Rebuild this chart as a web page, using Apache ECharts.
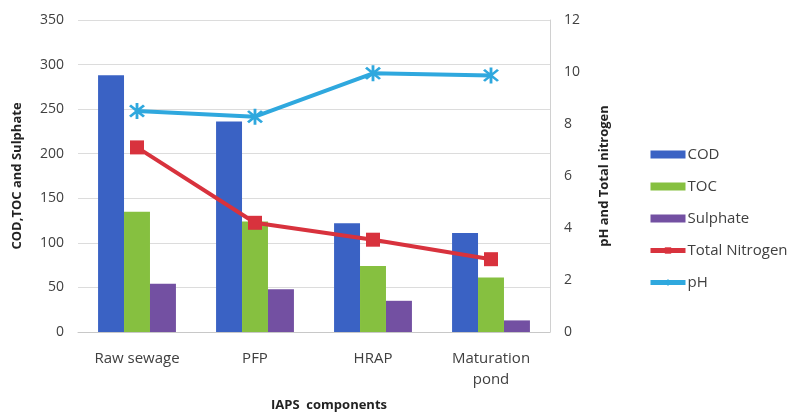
<!DOCTYPE html>
<html>
<head>
<meta charset="utf-8">
<script src="https://cdn.jsdelivr.net/npm/echarts@6/dist/echarts.min.js"></script>
<style>html,body{margin:0;padding:0;background:#fff}#c{width:790px;height:414px}</style>
</head>
<body>
<div id="c"></div>
<script>
var categories = ['Raw sewage', 'PFP', 'HRAP', 'Maturation\npond'];
var cod = [288, 236, 122, 111];
var toc = [135, 124, 74, 61];
var sulphate = [54, 48, 35, 13];
var totalNitrogen = [7.1, 4.2, 3.55, 2.8];
var ph = [8.5, 8.28, 9.95, 9.87];
var leftTicks = {min: 0, max: 350, interval: 50};
var rightTicks = {min: 0, max: 12, interval: 2};

var FONT = 'Open Sans';
var star = 'path://M-1,-7L1,-7L1,7L-1,7Z M-4.24,-5.66L5.66,4.24L4.24,5.66L-5.66,-4.24Z M-5.66,4.24L4.24,-5.66L5.66,-4.24L-4.24,5.66Z';

var chart = echarts.init(document.getElementById('c'), null, {renderer: 'canvas'});
chart.setOption({
  animation: false,
  backgroundColor: '#ffffff',
  textStyle: {fontFamily: FONT},
  grid: {left: 78, right: 240, top: 20, bottom: 82, containLabel: false, outerBoundsMode: 'none'},
  legend: {
    orient: 'vertical', left: 643, top: 142,
    itemWidth: 35, itemHeight: 8, itemGap: 17,
    textStyle: {fontSize: 15, color: '#404040', fontFamily: FONT, padding: [0, 0, 0, -3]},
    data: [
      {name: 'COD', icon: 'rect'},
      {name: 'TOC', icon: 'rect'},
      {name: 'Sulphate', icon: 'rect'},
      {name: 'Total Nitrogen', lineStyle: {width: 5}},
      {name: 'pH', lineStyle: {width: 5}}
    ]
  },
  xAxis: {
    type: 'category', data: categories,
    name: 'IAPS  components', nameLocation: 'middle', nameGap: 67,
    nameTextStyle: {fontWeight: 'bold', fontSize: 13, color: '#222', padding: [0, 0, 0, 30]},
    axisLine: {lineStyle: {color: '#c8c8c8'}},
    axisTick: {show: false},
    axisLabel: {fontSize: 15, color: '#404040', margin: 16, lineHeight: 21}
  },
  yAxis: [
    {
      type: 'value', min: leftTicks.min, max: leftTicks.max, interval: leftTicks.interval,
      name: 'COD,TOC and Sulphate', nameLocation: 'middle', nameGap: 54, nameRotate: 90,
      nameTextStyle: {fontWeight: 'bold', fontSize: 13, color: '#222'},
      axisLine: {show: false}, axisTick: {show: false},
      axisLabel: {fontSize: 14, color: '#404040', margin: 14},
      splitLine: {lineStyle: {color: '#dcdcdc'}}
    },
    {
      type: 'value', min: rightTicks.min, max: rightTicks.max, interval: rightTicks.interval,
      name: 'pH and Total nitrogen', nameLocation: 'middle', nameGap: 48, nameRotate: 90,
      nameTextStyle: {fontWeight: 'bold', fontSize: 13, color: '#222'},
      axisLine: {show: true, lineStyle: {color: '#d0d0d0'}}, axisTick: {show: false},
      axisLabel: {fontSize: 14, color: '#404040', margin: 14},
      splitLine: {show: false}
    }
  ],
  series: [
    {name: 'COD', type: 'bar', data: cod, barGap: '0%', barCategoryGap: '34%', itemStyle: {color: '#3a62c4'}},
    {name: 'TOC', type: 'bar', data: toc, itemStyle: {color: '#86c040'}},
    {name: 'Sulphate', type: 'bar', data: sulphate, itemStyle: {color: '#7350a2'}},
    {name: 'Total Nitrogen', type: 'line', yAxisIndex: 1, data: totalNitrogen,
      symbol: 'rect', symbolSize: 14, z: 5,
      lineStyle: {color: '#d8323d', width: 4}, itemStyle: {color: '#d8323d'}},
    {name: 'pH', type: 'line', yAxisIndex: 1, data: ph,
      symbol: star, symbolSize: 16, z: 5,
      lineStyle: {color: '#2fa8de', width: 4}, itemStyle: {color: '#2fa8de'}}
  ]
});
</script>
</body>
</html>
